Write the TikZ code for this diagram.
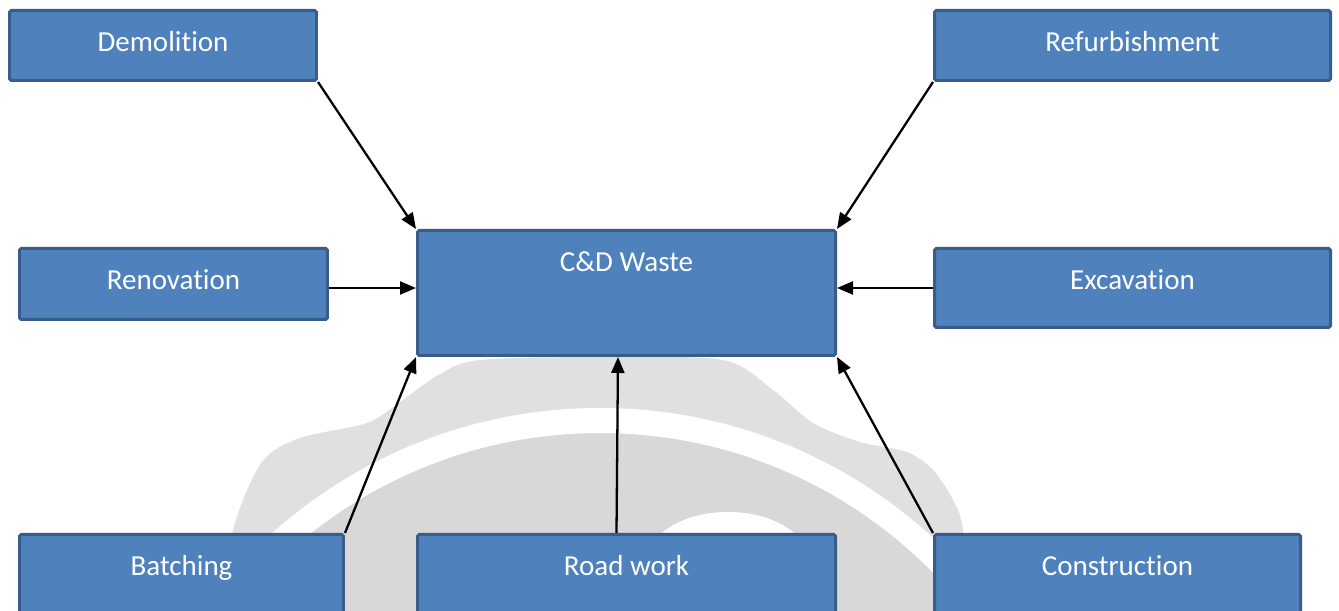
\documentclass[tikz,border=0pt]{standalone}
\usepackage{fontspec}
\setmainfont{Carlito}[Ligatures=NoCommon]
\usepackage{tikz}
\usetikzlibrary{arrows.meta, positioning, calc}
\definecolor{boxblue}{RGB}{79,129,189}
\definecolor{boxedge}{RGB}{56,93,138}
\definecolor{wmlight}{RGB}{224,224,224}
\definecolor{wmgray}{RGB}{216,216,216}
\tikzset{
  srcbox/.style={rectangle, draw=boxedge, fill=boxblue, text=white,
    line width=1.7pt, rounded corners=1pt, inner ysep=0pt,
    text height=0.82cm, align=center,
    font=\fontsize{16.5}{20}\selectfont},
  arrow/.style={-{Triangle[length=0.32cm, width=0.26cm]}, line width=1.3pt, color=black}
}
\begin{document}
\begin{tikzpicture}
  \useasboundingbox (0,0) rectangle (26.78,12.22);

  % Watermark behind the diagram
  \fill[color=wmlight] plot[smooth] coordinates {(4.3,-0.58) (4.66,1.62) (5.24,2.98) (6.0,3.46)
    (7.34,3.76) (8.0,4.18) (8.8,4.74) (9.6,5.02) (12.0,5.08) (14.46,5.02) (15.46,4.42)
    (16.26,3.76) (17.2,3.38) (18.14,3.18) (18.66,2.82) (19.06,2.22) (19.26,1.62) (19.5,-0.58)} -- cycle;
  \fill[color=wmgray] (12,-5.78) circle (9.34);
  \draw[white, line width=0.5cm] (12,-5.78) circle (9.59);
  \fill[white] (14.56,1.02) ellipse (1.6 and 0.96);

  % Central node
  \node[srcbox, minimum width=8.36cm, text depth=1.68cm] (waste) at (12.53, 6.36) {C\&D Waste};

  % Top row
  \node[srcbox, minimum width=6.14cm, text depth=0.58cm] (demo) at (3.26, 11.31) {Demolition};
  \node[srcbox, minimum width=7.92cm, text depth=0.58cm] (refurb) at (22.65, 11.31) {Refurbishment};

  % Middle row
  \node[srcbox, minimum width=6.16cm, text depth=0.60cm] (reno) at (3.47, 6.54) {Renovation};
  \node[srcbox, minimum width=7.92cm, text depth=0.76cm] (excav) at (22.65, 6.46) {Excavation};

  % Bottom row (cut by the page edge)
  \node[srcbox, minimum width=6.48cm, text depth=0.98cm] (batch) at (3.63, 0.63) {Batching};
  \node[srcbox, minimum width=8.36cm, text depth=0.98cm] (road) at (12.53, 0.63) {Road work};
  \node[srcbox, minimum width=7.32cm, text depth=0.98cm] (constr) at (22.35, 0.63) {Construction};

  % Arrows into C&D Waste
  \draw[arrow] (demo.south east) -- (waste.north west);
  \draw[arrow] (refurb.south west) -- (waste.north east);
  \draw[arrow] (reno.east |- excav.west) -- (waste.west |- excav.west);
  \draw[arrow] (excav.west) -- (waste.east |- excav.west);
  \draw[arrow] (batch.north east) -- (waste.south west);
  \draw[arrow] ([xshift=-0.2cm]road.north) -- ([xshift=-0.17cm]waste.south);
  \draw[arrow] (constr.north west) -- (waste.south east);

\end{tikzpicture}
\end{document}
